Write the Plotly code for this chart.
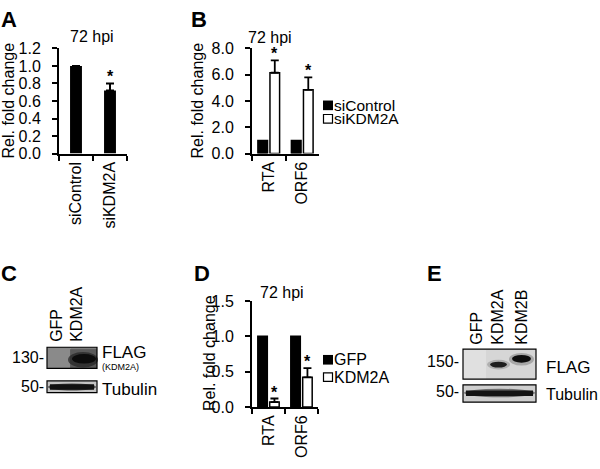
import plotly.graph_objects as go

# ---------------- data ----------------
A_categories = ["siControl", "siKDM2A"]
A_values = [1.0, 0.72]
A_errors = [None, 0.08]

B_genes = ["RTA", "ORF6"]
B_siControl = [1.0, 1.0]
B_siKDM2A = [6.15, 4.85]
B_siKDM2A_err = [0.95, 0.95]

D_genes = ["RTA", "ORF6"]
D_GFP = [1.0, 1.0]
D_KDM2A = [0.07, 0.42]
D_KDM2A_err = [0.05, 0.13]

A_ticks = [0.0, 0.2, 0.4, 0.6, 0.8, 1.0, 1.2]
B_ticks = [0.0, 2.0, 4.0, 6.0, 8.0]
D_ticks = [0.0, 0.5, 1.0, 1.5]

W, H = 600, 469
FONT = "Arial, Liberation Sans, sans-serif"


def px(x):
    return x / W


def py(y):
    return 1 - y / H


fig = go.Figure()

# Panel A
fig.add_trace(go.Bar(x=A_categories, y=A_values, width=0.35, marker=dict(color="black", line=dict(width=0)),
                     error_y=dict(type="data", array=A_errors, arrayminus=[0, 0], symmetric=False,
                                  color="black", thickness=2, width=4),
                     xaxis="x", yaxis="y", showlegend=False))
# Panel B
fig.add_trace(go.Bar(x=B_genes, y=B_siControl, name="siControl", marker=dict(color="black", line=dict(color="black", width=1.5)),
                     xaxis="x2", yaxis="y2", showlegend=False))
fig.add_trace(go.Bar(x=B_genes, y=B_siKDM2A, name="siKDM2A", marker=dict(color="white", line=dict(color="black", width=1.5)),
                     error_y=dict(type="data", array=B_siKDM2A_err, arrayminus=[0, 0], symmetric=False,
                                  color="black", thickness=1.8, width=4),
                     xaxis="x2", yaxis="y2", showlegend=False))
# Panel D
fig.add_trace(go.Bar(x=D_genes, y=D_GFP, name="GFP", marker=dict(color="black", line=dict(color="black", width=1.5)),
                     xaxis="x3", yaxis="y3", showlegend=False))
fig.add_trace(go.Bar(x=D_genes, y=D_KDM2A, name="KDM2A", marker=dict(color="white", line=dict(color="black", width=1.5)),
                     error_y=dict(type="data", array=D_KDM2A_err, arrayminus=[0, 0], symmetric=False,
                                  color="black", thickness=1.8, width=4),
                     xaxis="x3", yaxis="y3", showlegend=False))

tickfont = dict(family=FONT, size=16, color="black")


def xax(domain, anchor):
    return dict(domain=domain, anchor=anchor, type="category", range=[-0.5, 1.5],
                showline=True, linecolor="black", linewidth=2, ticks="outside", ticklen=5,
                tickwidth=2, tickcolor="black", tickson="boundaries", tickangle=-90,
                tickfont=tickfont, showgrid=False, zeroline=False, ticklabelstandoff=0)


def yax(domain, anchor, rng, ticks):
    return dict(domain=domain, anchor=anchor, range=rng, tickvals=ticks,
                ticktext=[f"{t:.1f}" for t in ticks],
                showline=True, linecolor="black", linewidth=2, ticks="outside", ticklen=5,
                tickwidth=2, tickcolor="black", tickfont=tickfont, showgrid=False,
                zeroline=False, ticklabelstandoff=8)


layout = dict(
    width=W, height=H, margin=dict(l=0, r=0, t=0, b=0),
    paper_bgcolor="white", plot_bgcolor="white",
    barmode="group", bargap=0.28, bargroupgap=0.2,
    font=dict(family=FONT, color="black"),
    xaxis=xax([px(59), px(127)], "y"),
    yaxis=yax([py(151), py(42)], "x", [0, 1.2], A_ticks),
    xaxis2=xax([px(252), px(319)], "y2"),
    yaxis2=yax([py(151), py(42)], "x2", [0, 8], B_ticks),
    xaxis3=xax([px(252), px(318)], "y3"),
    yaxis3=yax([py(414), py(304)], "x3", [0, 1.5], D_ticks),
)
fig.update_layout(**layout)

ann = []


def text(x, y, s, size=15, xanchor="center", yanchor="middle", angle=0, bold=False):
    ann.append(dict(x=px(x), y=py(y), xref="paper", yref="paper", text=f"<b>{s}</b>" if bold else s,
                    showarrow=False, xanchor=xanchor, yanchor=yanchor, textangle=angle,
                    font=dict(family=FONT, size=size, color="black")))


# panel letters
text(-1, 12, "A", 22, "left", bold=True)
text(189, 12, "B", 22, "left", bold=True)
text(-1, 275, "C", 22, "left", bold=True)
text(192, 275, "D", 22, "left", bold=True)
text(425, 275, "E", 22, "left", bold=True)

# titles
text(92, 30, "72 hpi", 16)
text(270, 31, "72 hpi", 16)
text(282, 295, "72 hpi", 16)

# y-axis titles
text(9, 96, "Rel. fold change", 16, angle=-90)
text(198, 96, "Rel. fold change", 16, angle=-90)
text(209, 358, "Rel. fold change", 16, angle=-90)

# asterisks
for xa, ya, cat, val, err, shift in [
    ("x", "y", A_categories[1], A_values[1], A_errors[1], 0),
    ("x2", "y2", B_genes[0], B_siKDM2A[0], B_siKDM2A_err[0], 6),
    ("x2", "y2", B_genes[1], B_siKDM2A[1], B_siKDM2A_err[1], 6),
    ("x3", "y3", D_genes[0], D_KDM2A[0], D_KDM2A_err[0], 6),
    ("x3", "y3", D_genes[1], D_KDM2A[1], D_KDM2A_err[1], 6),
]:
    ann.append(dict(x=cat, y=val + err, xref=xa, yref=ya, text="<b>*</b>", showarrow=False,
                    xanchor="center", yanchor="bottom", xshift=shift, yshift=-4,
                    font=dict(family=FONT, size=16, color="black")))

shapes = []


def box(x0, y0, x1, y1, fill, lw=0, kind="rect", opacity=1.0):
    shapes.append(dict(type=kind, xref="paper", yref="paper", x0=px(x0), x1=px(x1), y0=py(y1), y1=py(y0),
                       fillcolor=fill, opacity=opacity,
                       line=dict(color="black", width=lw) if lw else dict(width=0)))


# legends B and D (manual, tight spacing)
for (y1, y2, n1, n2, fs) in [(101, 115, "siControl", "siKDM2A", 15.5), (365, 383, "GFP", "KDM2A", 16)]:
    box(323, y1 - 5, 333, y1 + 5, "black")
    box(323.5, y2 - 4.5, 332.5, y2 + 4.5, "white", lw=1.2)
    text(332, y1, n1, fs, "left")
    text(332, y2, n2, fs, "left")

# ---- Blot C ----
box(47, 352, 97, 374, "#7c7c7c")
box(47, 352, 71, 374, "#8a8a8a")
box(70, 354, 97, 374, "#4a4a4a", opacity=0.7)
box(68, 357, 98, 373, "#222222", kind="circle", opacity=0.7)
box(72, 359, 96, 369, "#0c0c0c", kind="circle")
box(47, 352, 97, 374, "rgba(0,0,0,0)", lw=1.2)
box(47, 387, 97, 399, "#c4c4c4")
box(48, 389.5, 96, 397, "#333333", kind="circle", opacity=0.8)
box(50, 390.5, 94, 396, "#111111")
box(47, 387, 97, 399, "rgba(0,0,0,0)", lw=1.2)
text(57, 349, "GFP", 16, angle=-90, yanchor="bottom")
text(77, 349, "KDM2A", 16, angle=-90, yanchor="bottom")
text(46, 363, "130-", 16, "right")
text(46, 393, "50-", 16, "right")
text(100, 357, "FLAG", 17, "left")
text(100, 373, "(KDM2A)", 9, "left")
text(100, 396, "Tubulin", 17, "left")

# ---- Blot E ----
box(463, 354, 536, 385, "#d6d6d6")
box(463, 354, 486, 385, "#e0e0e0")
box(487, 365, 510, 375, "#888888", kind="circle", opacity=0.5)
box(490, 367, 507, 373, "#1e1e1e", kind="circle")
box(509, 358, 534, 371, "#777777", kind="circle", opacity=0.5)
box(512, 360, 531, 368, "#0e0e0e", kind="circle")
box(463, 354, 536, 385, "rgba(0,0,0,0)", lw=1.2)
box(463, 391, 536, 409, "#cfcfcf")
box(464, 395, 535, 404, "#444444", kind="circle", opacity=0.7)
box(466, 397, 533, 402.5, "#141414")
box(463, 391, 536, 409, "rgba(0,0,0,0)", lw=1.2)
text(477, 352, "GFP", 16, angle=-90, yanchor="bottom")
text(498, 352, "KDM2A", 16, angle=-90, yanchor="bottom")
text(522, 352, "KDM2B", 16, angle=-90, yanchor="bottom")
text(461, 367, "150-", 16, "right")
text(461, 398, "50-", 16, "right")
text(544, 373, "FLAG", 17, "left")
text(544, 401, "Tubulin", 16, "left")

fig.update_layout(annotations=ann, shapes=shapes)
fig.write_html("out.html", config={"displayModeBar": False},
               post_script="document.body.style.margin='0';document.body.style.overflow='hidden';")
